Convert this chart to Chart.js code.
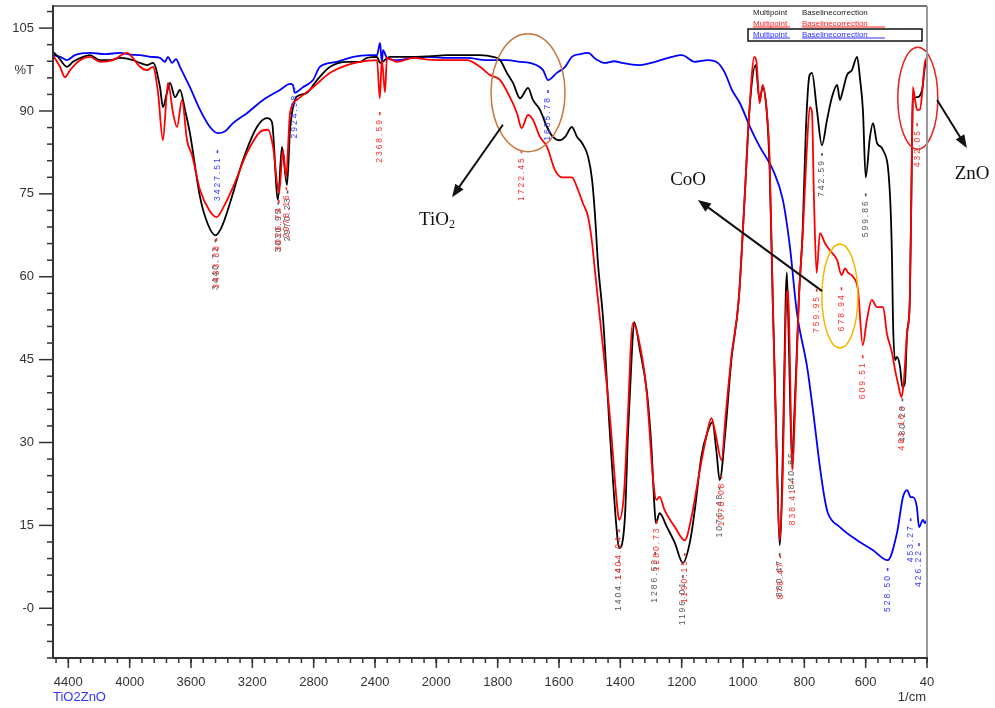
<!DOCTYPE html>
<html>
<head>
<meta charset="utf-8">
<title>TiO2ZnO FTIR</title>
<script src="https://cdn.jsdelivr.net/npm/chart.js@4.4.1/dist/chart.umd.min.js"></script>
<style>
html, body { margin: 0; padding: 0; background: #fff; }
#wrap { position: relative; width: 995px; height: 708px; }
</style>
</head>
<body>
<div id="wrap"><canvas id="ftirChart" width="995" height="708"></canvas></div>
<script>
// axis ticks (cm-1 and %T)
var xTicks = [4400, 4000, 3600, 3200, 2800, 2400, 2000, 1800, 1600, 1400, 1200, 1000, 800, 600, 400];
var yTicks = [0, 15, 30, 45, 60, 75, 90, 105];

// spectra: [wavenumber, %T]
var blueSpectrum = [
    [4500,100.1],[4454,99.8],[4409,99.2],[4357,100.1],[4259,100.5],[4160,100.3],[4063,100.5],[3990,100.2],
    [3933,100.1],[3867,99.8],[3802,99.6],[3770,98.9],[3750,99.8],[3724,98.7],[3698,99.4],[3672,98.0],
    [3607,94.3],[3541,90.2],[3476,87.1],[3427.5,86.0],[3380,86.3],[3326,87.8],[3235,89.6],[3130,92.0],
    [3020,93.8],[2954,94.9],[2935,94.7],[2924,93.3],[2870,94.3],[2804,95.6],[2759,98.0],[2648,98.9],
    [2543,99.8],[2433,100.1],[2387,100.1],[2367,102.3],[2355,98.7],[2348,101.0],[2322,99.6],[2257,99.2],
    [2152,99.6],[2060,99.8],[1965,99.6],[1900,99.6],[1835,99.2],[1770,99.2],[1727,98.9],[1695,98.7],
    [1652,97.4],[1636,95.6],[1607,96.9],[1580,98.0],[1558,99.8],[1530,100.3],[1505,100.5],[1480,99.4],
    [1450,98.7],[1420,99.0],[1395,98.7],[1342,98.3],[1287,98.9],[1232,99.8],[1199,100.1],[1157,98.9],
    [1114,99.2],[1082,98.7],[1059,96.9],[1036,93.8],[1010,91.4],[977,87.1],[945,83.5],[902,79.3],
    [870,73.9],[847,65.4],[824,53.4],[791,43.7],[772,35.9],[749,25.5],[733,19.6],[723,17.2],
    [684,14.7],[628,12.3],[576,10.5],[528.5,8.7],[498,13.6],[478.5,20.1],[465,21.4],[453,20.1],
    [446,20.1],[433,18.3],[426,14.7],[413,16.0],[407,15.4],[400,16.0]
];

var blackSpectrum = [
    [4500,100.7],[4467,99.8],[4409,98.0],[4370,98.9],[4304,99.8],[4259,100.1],[4193,99.2],[4128,99.2],
    [4063,99.6],[3978,99.2],[3933,98.7],[3887,98.3],[3848,98.7],[3802,94.3],[3783,90.7],[3757,93.3],
    [3737,95.1],[3704,92.5],[3672,93.8],[3639,90.2],[3607,86.0],[3541,74.4],[3490,69.5],[3440.7,67.5],
    [3400,69.0],[3346,73.3],[3261,81.1],[3170,87.1],[3104,88.7],[3072,88.0],[3033,73.9],[3007,83.5],
    [2974,76.6],[2954,86.6],[2922,92.0],[2889,92.9],[2843,93.3],[2778,95.6],[2693,98.0],[2583,98.9],
    [2498,98.9],[2452,99.6],[2387,99.8],[2367,98.7],[2302,99.8],[2152,99.8],[2050,99.9],[1965,100.1],
    [1913,100.1],[1858,100.1],[1815,99.8],[1792,99.2],[1770,96.9],[1750,95.1],[1727,92.3],[1701,94.2],
    [1685,92.0],[1662,90.2],[1639,87.1],[1620,85.3],[1597,84.7],[1580,85.3],[1558,87.1],[1541,85.3],
    [1525,84.2],[1505,81.7],[1492,77.5],[1483,71.5],[1473,62.5],[1456,52.2],[1434,31.7],[1411,13.6],
    [1404,10.9],[1385,16.5],[1375,31.7],[1362,46.7],[1355,51.8],[1336,46.7],[1313,39.0],[1298,28.6],
    [1290,19.6],[1284,15.4],[1272,17.2],[1248,14.7],[1222,11.8],[1196,8.2],[1172,12.3],[1156,18.3],
    [1136,27.4],[1114,32.2],[1100,33.7],[1087,28.6],[1076,23.2],[1058,31.7],[1038,44.9],[1014,55.8],
    [995,73.9],[979,90.2],[959,98.3],[946,92.0],[936,94.2],[923,90.2],[913,79.3],[903,55.8],
    [890,28.6],[880.5,11.4],[870,28.6],[861,55.8],[857,60.8],[850,46.7],[840.9,27.7],[828,41.3],
    [818,55.8],[805,69.0],[795,86.6],[783,96.5],[775,96.9],[759,90.2],[742.6,83.8],[726,88.4],
    [710,92.5],[693,94.7],[684,92.0],[674,93.8],[661,96.5],[645,97.4],[628,99.8],[618,95.6],
    [609,90.2],[599.9,78.0],[586,85.3],[576,87.8],[563,84.2],[543,82.9],[521,75.1],[514,63.0],
    [511,52.2],[504,44.9],[498,45.5],[488,43.7],[480,40.0],[472,40.8],[465,49.8],[456,55.8],
    [451,75.0],[446,92.0],[433,92.5],[416,93.8],[407,98.0],[400,99.8]
];

var redSpectrum = [
    [4500,100.1],[4454,98.0],[4422,96.1],[4389,97.4],[4324,99.2],[4259,99.8],[4193,98.9],[4109,99.2],
    [4017,100.5],[3985,99.8],[3933,98.0],[3887,97.4],[3848,98.0],[3815,93.3],[3783,84.7],[3750,95.1],
    [3717,89.6],[3691,87.1],[3659,92.0],[3626,84.7],[3593,82.0],[3541,75.7],[3480,72.0],[3433,70.8],
    [3390,72.5],[3326,76.2],[3235,82.4],[3150,86.2],[3098,86.6],[3065,83.5],[3026,75.1],[3000,82.9],
    [2980,78.0],[2954,89.6],[2909,92.0],[2804,94.3],[2693,96.9],[2583,98.3],[2498,98.9],[2387,99.2],
    [2368.6,92.3],[2355,99.2],[2335,93.4],[2322,99.6],[2257,98.9],[2152,99.6],[2050,99.3],[1965,99.2],
    [1900,99.2],[1858,98.0],[1825,96.5],[1792,95.6],[1760,92.5],[1737,89.6],[1722,86.9],[1701,89.3],
    [1685,88.4],[1662,85.3],[1639,83.5],[1613,79.3],[1590,78.0],[1558,78.0],[1538,75.7],[1522,73.3],
    [1505,70.8],[1492,66.1],[1483,61.2],[1466,52.2],[1434,34.6],[1408,17.2],[1404,16.0],[1388,20.8],
    [1378,31.7],[1359,51.6],[1333,46.7],[1314,39.0],[1292,22.6],[1282,19.6],[1272,20.2],[1256,17.8],
    [1222,14.7],[1190,12.3],[1168,16.5],[1145,23.7],[1122,30.4],[1103,34.4],[1090,31.7],[1070,26.8],
    [1057,34.6],[1038,45.5],[1014,55.8],[995,73.9],[979,90.2],[963,99.8],[956,98.9],[946,91.4],
    [936,94.7],[923,90.2],[913,81.1],[903,55.8],[890,26.8],[880.5,12.3],[870,25.0],[861,52.2],
    [853,57.6],[847,44.9],[840,25.0],[828,39.5],[818,55.8],[805,67.9],[792,82.9],[782,90.7],
    [775,89.8],[769,75.1],[759.95,60.7],[749,67.9],[733,66.1],[717,64.8],[693,63.0],[678.94,60.3],
    [667,61.5],[657,60.7],[641,60.0],[625,57.6],[609.5,47.6],[596,52.2],[580,55.8],[563,54.5],
    [543,54.5],[531,49.8],[514,46.2],[504,43.1],[495,40.8],[483,38.2],[476,40.8],[465,49.8],
    [456,55.8],[449,82.9],[446,94.3],[439,92.0],[432.05,90.2],[423,90.2],[413,95.1],[407,98.7],
    [400,99.6]
];

// peak picks printed by the instrument: [wavenumber, %T at top of label, text]
var blackPeaks = [
    [3440.72, 66.8, '3440.72'], [3030.95, 73.6, '3030.95'], [2970.23, 75.6, '2970.23'],
    [1404.14, 8.7, '1404.14'], [1286.52, 10.2, '1286.52'], [1196.01, 6.0, '1196.01'],
    [1076.48, 22.0, '1076.48'], [880.47, 10.0, '880.47'], [840.86, 29.5, '840.86'],
    [742.59, 82.4, '742.59'], [599.86, 75.1, '599.86'], [480.20, 38.0, '480.20']
];
var redPeaks = [
    [3433.38, 67.0, '3433.38'], [3026.74, 73.9, '3026.74'], [2978.16, 76.2, '2978.16'],
    [2368.59, 89.8, '2368.59'], [1722.45, 82.9, '1722.45'], [1404.04, 14.3, '1404.04'],
    [1280.73, 15.9, '1280.73'], [1190.15, 10.0, '1190.15'], [1070.08, 24.0, '1070.08'],
    [878.47, 9.6, '878.47'], [838.41, 23.0, '838.41'], [759.95, 57.8, '759.95'],
    [678.94, 58.1, '678.94'], [609.51, 45.8, '609.51'], [483.16, 36.5, '483.16'],
    [432.05, 87.8, '432.05']
];
var bluePeaks = [
    [3427.51, 82.9, '3427.51'], [2924.98, 94.2, '2924.98'], [1635.78, 93.8, '1635.78'],
    [528.50, 7.3, '528.50'], [453.27, 16.3, '453.27'], [426.22, 11.8, '426.22']
];

// the instrument squeezes 4500-2000 to half scale
function toU(w) { return w >= 2000 ? (4500 - w) / 2 : 1250 + (2000 - w); }
function fromU(u) { return u <= 1250 ? 4500 - 2 * u : 3250 - u; }
function toPoints(arr) { return arr.map(function(p) { return { x: toU(p[0]), y: p[1] }; }); }

// drawn notes (anchors in cm-1 / %T)
var rings = [
    { w: 1701, t: 93.3, rx: 37, ry: 59, color: '#c8783c' },
    { w: 430, t: 92.3, rx: 20, ry: 51, color: '#e82020' },
    { w: 684, t: 56.5, rx: 18, ry: 52, color: '#f5b800' }
];
var arrows = [
    { from: [1783, 87.5], to: [1949, 74.4] },
    { from: [742, 57.4], to: [1147, 73.9] },
    { from: [367, 92.0], to: [270, 83.3] }
];

function line(ctx, x1, y1, x2, y2) {
    ctx.beginPath(); ctx.moveTo(x1, y1); ctx.lineTo(x2, y2); ctx.stroke();
}

var framePlugin = {
    id: 'frame',
    afterDraw: function(chart) {
        var ctx = chart.ctx, a = chart.chartArea, xs = chart.scales.x, ys = chart.scales.y;
        ctx.save();
        ctx.strokeStyle = '#444'; ctx.lineWidth = 1.5;
        line(ctx, a.left, a.top, a.right, a.top);
        ctx.strokeStyle = '#999'; ctx.lineWidth = 2;
        line(ctx, a.right, a.top, a.right, a.bottom);
        ctx.strokeStyle = '#333'; ctx.lineWidth = 2;
        line(ctx, a.left, a.top - 1, a.left, a.bottom);
        line(ctx, a.left, a.bottom, a.right + 1, a.bottom);

        ctx.lineWidth = 1.5;
        for (var v = -9; v <= 108; v += 3) {
            var py = ys.getPixelForValue(v);
            line(ctx, a.left - (yTicks.indexOf(v) >= 0 ? 14 : 6), py, a.left, py);
        }
        var w;
        for (w = 4480; w >= 2000; w -= 80) {
            var px = xs.getPixelForValue(toU(w));
            line(ctx, px, a.bottom, px, a.bottom + 5);
        }
        for (w = 2000; w >= 400; w -= 40) {
            var px2 = xs.getPixelForValue(toU(w));
            line(ctx, px2, a.bottom, px2, a.bottom + 5);
        }
        xTicks.forEach(function(t) {
            var px3 = xs.getPixelForValue(toU(t));
            line(ctx, px3, a.bottom, px3, a.bottom + 10);
        });

        // axis captions
        ctx.font = '13px "Liberation Sans"';
        ctx.textBaseline = 'middle';
        ctx.fillStyle = '#333';
        ctx.textAlign = 'right';
        ctx.fillText('%T', 34, ys.getPixelForValue(97.4));
        ctx.fillText('1/cm', a.right - 1, 697);
        ctx.textAlign = 'left';
        ctx.fillStyle = '#3535ff';
        ctx.fillText('TiO2ZnO', a.left, 697);

        // legend block
        ctx.font = '8px "Liberation Sans"';
        var rows = [['#222', 13], ['#ff2020', 24], ['#3030ff', 35]];
        rows.forEach(function(r, i) {
            ctx.fillStyle = r[0];
            ctx.fillText('Multipoint', 753, r[1]);
            ctx.fillText('Baselinecorrection', 802, r[1]);
            if (i > 0) {
                ctx.strokeStyle = r[0]; ctx.lineWidth = 1;
                line(ctx, 753, r[1] + 3, 790, r[1] + 3);
                line(ctx, 802, r[1] + 3, 885, r[1] + 3);
            }
        });
        ctx.strokeStyle = '#111'; ctx.lineWidth = 1.5;
        ctx.strokeRect(748, 29, 174, 12);
        ctx.restore();
    }
};

var notesPlugin = {
    id: 'notes',
    afterDatasetsDraw: function(chart) {
        var ctx = chart.ctx, xs = chart.scales.x, ys = chart.scales.y;
        function P(w, t) { return [xs.getPixelForValue(toU(w)), ys.getPixelForValue(t)]; }

        // peak picks
        var groups = [[blackPeaks, '#555555'], [redPeaks, '#ff3030'], [bluePeaks, '#3a3aff']];
        groups.forEach(function(g) {
            g[0].forEach(function(pk) {
                var p = P(pk[0], pk[1]);
                ctx.save();
                ctx.translate(p[0], p[1]);
                ctx.rotate(-Math.PI / 2);
                ctx.fillStyle = g[1];
                ctx.fillRect(-3, -0.8, 3, 1.6);
                ctx.font = '8.5px "Liberation Sans"';
                ctx.letterSpacing = '2px';
                ctx.textAlign = 'right';
                ctx.textBaseline = 'middle';
                ctx.fillText(pk[2], -6, 0);
                ctx.restore();
            });
        });

        ctx.save();
        rings.forEach(function(r) {
            var c = P(r.w, r.t);
            ctx.strokeStyle = r.color; ctx.lineWidth = 1.5;
            ctx.beginPath();
            ctx.ellipse(c[0], c[1], r.rx, r.ry, 0, 0, Math.PI * 2);
            ctx.stroke();
        });

        ctx.strokeStyle = '#111'; ctx.fillStyle = '#111'; ctx.lineWidth = 2;
        arrows.forEach(function(ar) {
            var s = P(ar.from[0], ar.from[1]), e = P(ar.to[0], ar.to[1]);
            var ang = Math.atan2(e[1] - s[1], e[0] - s[0]);
            line(ctx, s[0], s[1], e[0] - 8 * Math.cos(ang), e[1] - 8 * Math.sin(ang));
            ctx.beginPath();
            ctx.moveTo(e[0], e[1]);
            ctx.lineTo(e[0] - 13 * Math.cos(ang) + 5 * Math.sin(ang), e[1] - 13 * Math.sin(ang) - 5 * Math.cos(ang));
            ctx.lineTo(e[0] - 13 * Math.cos(ang) - 5 * Math.sin(ang), e[1] - 13 * Math.sin(ang) + 5 * Math.cos(ang));
            ctx.closePath();
            ctx.fill();
        });

        ctx.font = '19px "Liberation Serif"';
        ctx.textBaseline = 'middle';
        ctx.textAlign = 'left';
        var tio = P(1975, 70.3);
        var wTio = ctx.measureText('TiO').width;
        ctx.fillText('TiO', tio[0] - 25, tio[1]);
        ctx.font = '12px "Liberation Serif"';
        ctx.fillText('2', tio[0] - 25 + wTio, tio[1] + 5);
        ctx.font = '19px "Liberation Serif"';
        ctx.textAlign = 'center';
        var coo = P(1179, 77.5);
        ctx.fillText('CoO', coo[0], coo[1]);
        var zno = P(253, 78.6);
        ctx.fillText('ZnO', zno[0], zno[1]);
        ctx.restore();
    }
};

var ctx = document.getElementById('ftirChart');
new Chart(ctx, {
    type: 'line',
    data: {
        datasets: [
            { label: 'red', data: toPoints(redSpectrum), borderColor: '#ff0000', order: 0 },
            { label: 'black', data: toPoints(blackSpectrum), borderColor: '#000000', order: 1 },
            { label: 'blue', data: toPoints(blueSpectrum), borderColor: '#0000ff', order: 2 }
        ]
    },
    options: {
        responsive: false,
        animation: false,
        layout: { padding: { top: 6, right: 68, left: 0, bottom: 0 } },
        elements: {
            point: { radius: 0 },
            line: { borderWidth: 1.8, fill: false, cubicInterpolationMode: 'monotone' }
        },
        plugins: { legend: { display: false }, tooltip: { enabled: false } },
        scales: {
            x: {
                type: 'linear', min: 0, max: 2850,
                afterBuildTicks: function(s) { s.ticks = xTicks.map(function(w) { return { value: toU(w) }; }); },
                afterFit: function(s) { s.height = 50; s.paddingLeft = 0; s.paddingRight = 0; },
                grid: { display: false, drawTicks: false }, border: { display: false },
                ticks: {
                    autoSkip: false, maxRotation: 0, padding: 17, color: '#333',
                    font: { family: 'Liberation Sans', size: 13 },
                    callback: function(v) { var w = Math.round(fromU(v)); return w === 400 ? '40' : String(w); }
                }
            },
            y: {
                min: -9, max: 109,
                afterBuildTicks: function(s) { s.ticks = yTicks.map(function(v) { return { value: v }; }); },
                afterFit: function(s) { s.width = 53; s.paddingTop = 0; s.paddingBottom = 0; },
                grid: { display: false, drawTicks: false }, border: { display: false },
                ticks: {
                    padding: 19, color: '#333',
                    font: { family: 'Liberation Sans', size: 13 },
                    callback: function(v) { return v === 0 ? '-0' : String(v); }
                }
            }
        }
    },
    plugins: [framePlugin, notesPlugin]
});
</script>
</body>
</html>
